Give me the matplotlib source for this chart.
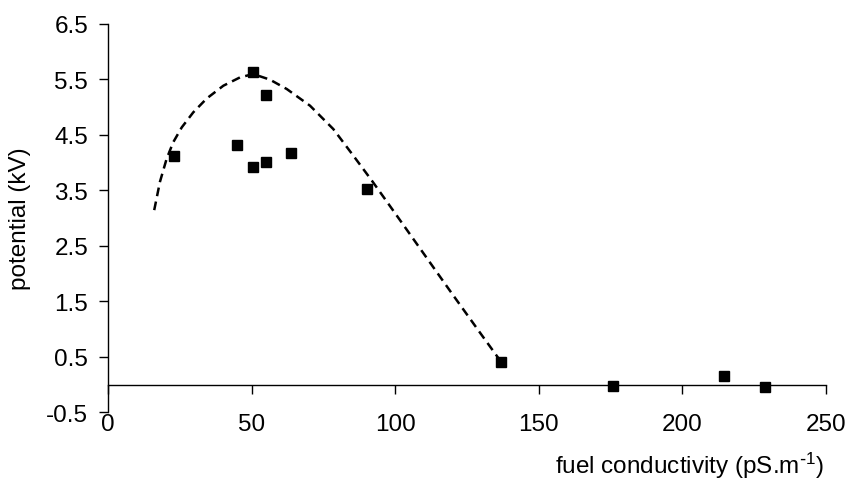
import matplotlib
matplotlib.use("Agg")
import matplotlib.pyplot as plt

plt.rcParams['font.family'] = ['Liberation Sans', 'DejaVu Sans']
plt.rcParams['mathtext.default'] = 'regular'

# measured data points
conductivity = [23, 50.5, 55, 45, 50.5, 55, 63.5, 90, 137, 176, 214.5, 229]
potential = [4.11, 5.62, 5.21, 4.31, 3.91, 4.01, 4.16, 3.52, 0.40, -0.02, 0.15, -0.04]

# trend curve
curve_x = [16, 18, 20.3, 22.6, 25.6, 29.6, 34.3, 40.1, 45.9, 50.5, 56.3, 62.2, 70.3,
           78.4, 85.4, 92, 100, 110, 120, 130, 137]
curve_y = [3.14, 3.65, 4.06, 4.36, 4.63, 4.90, 5.15, 5.38, 5.53, 5.59, 5.49, 5.32, 5.02,
           4.60, 4.12, 3.66, 3.08, 2.35, 1.62, 0.90, 0.40]

x_ticks = [0, 50, 100, 150, 200, 250]
y_ticks = [-0.5, 0.5, 1.5, 2.5, 3.5, 4.5, 5.5, 6.5]

fig = plt.figure(figsize=(8.48, 4.85), dpi=100)
ax = fig.add_axes([108.3/848, 1-413.3/485, (825.7-108.3)/848, (413.3-24.5)/485])

ax.plot(curve_x, curve_y, color='black', lw=1.8, dashes=(3.5, 2.2), zorder=2)
ax.plot(conductivity, potential, linestyle='none', marker='s', markersize=7.6,
        color='black', zorder=3)

ax.set_xlim(0, 250)
ax.set_ylim(-0.5, 6.5)
ax.set_xticks(x_ticks)
ax.set_xticklabels([str(t) for t in x_ticks])
ax.set_yticks(y_ticks)
ax.set_yticklabels([f"{t:.1f}" for t in y_ticks])

for s in ['top', 'right']:
    ax.spines[s].set_visible(False)
ax.spines['bottom'].set_position(('data', 0))
ax.spines['bottom'].set_linewidth(1.0)
ax.spines['left'].set_linewidth(1.0)

ax.tick_params(axis='x', direction='out', length=6.2, width=1.0, pad=14,
               labelsize=17.5, colors='black')
ax.tick_params(axis='y', direction='out', length=6.5, width=1.0, pad=8,
               labelsize=17.5, colors='black')

ax.set_ylabel('potential (kV)', fontsize=17.5)
ax.yaxis.set_label_coords(-0.108, 0.5)

fig.text(824/848, 1-466/485, r'fuel conductivity (pS.m$^{\text{-}1}$)', fontsize=17.5,
         ha='right', va='center')

fig.savefig('out.png', dpi=100)
